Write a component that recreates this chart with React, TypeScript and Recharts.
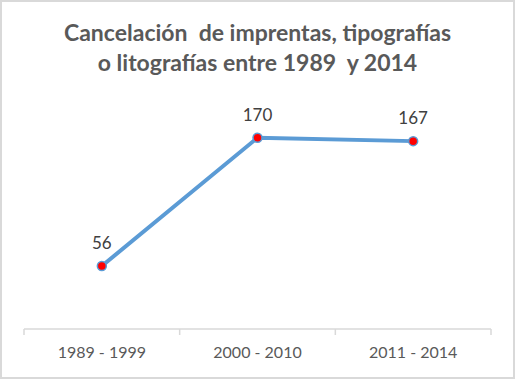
import { LabelList, Line, LineChart, XAxis, YAxis } from "recharts"

const periods = ["1989 - 1999", "2000 - 2010", "2011 - 2014"]
const cancellations = [56, 170, 167]
const titleLines = ["Cancelación  de imprentas, tipografías", "o litografías entre 1989  y 2014"]

const data = periods.map((p, i) => ({ period: p, value: cancellations[i] }))

const FONT = "Lato, 'Open Sans', sans-serif"
const W = 515
const H = 379

function PeriodTick(props: any) {
  const { x, y, payload, index, visibleTicksCount } = props
  const half = payload?.offset || (W - 48) / 6
  const last = index === visibleTicksCount - 1
  return (
    <g>
      <line x1={x - half} y1={y} x2={x - half} y2={y + 6} stroke="#d9d9d9" strokeWidth={1.5} />
      {last && <line x1={x + half} y1={y} x2={x + half} y2={y + 6} stroke="#d9d9d9" strokeWidth={1.5} />}
      <text x={x} y={y + 29} textAnchor="middle" fill="#595959" fontSize={16} fontFamily={FONT}>
        {payload.value}
      </text>
    </g>
  )
}

export default function App() {
  return (
    <div style={{ position: "fixed", left: 0, top: 0, width: W, height: H, background: "#fff" }}>
      <div
        style={{
          position: "absolute",
          top: 17,
          left: 0,
          width: W,
          textAlign: "center",
          whiteSpace: "pre",
          fontFamily: FONT,
          fontWeight: 700,
          fontSize: 23,
          lineHeight: "30px",
          color: "#595959",
        }}
      >
        {titleLines.map((t) => (
          <div key={t}>{t}</div>
        ))}
      </div>
      <LineChart width={W} height={H} data={data} margin={{ top: 104, right: 24, left: 24, bottom: 0 }}>
        <XAxis
          dataKey="period"
          scale="band"
          interval={0}
          height={50}
          axisLine={{ stroke: "#d9d9d9", strokeWidth: 1.5 }}
          tickLine={false}
          tickSize={0}
          tickMargin={0}
          tick={<PeriodTick />}
        />
        <YAxis hide domain={[0, 200]} />
        <Line
          dataKey="value"
          type="linear"
          stroke="#5b9bd5"
          strokeWidth={4}
          dot={{ r: 4.5, fill: "#ff0000", stroke: "#5b9bd5", strokeWidth: 1.5 }}
          activeDot={false}
          isAnimationActive={false}
        >
          <LabelList dataKey="value" position="top" offset={17} fill="#404040" fontSize={17} fontFamily={FONT} />
        </Line>
      </LineChart>
      <div
        style={{
          position: "absolute",
          inset: 0,
          border: "2px solid #d9d9d9",
          pointerEvents: "none",
        }}
      />
    </div>
  )
}
